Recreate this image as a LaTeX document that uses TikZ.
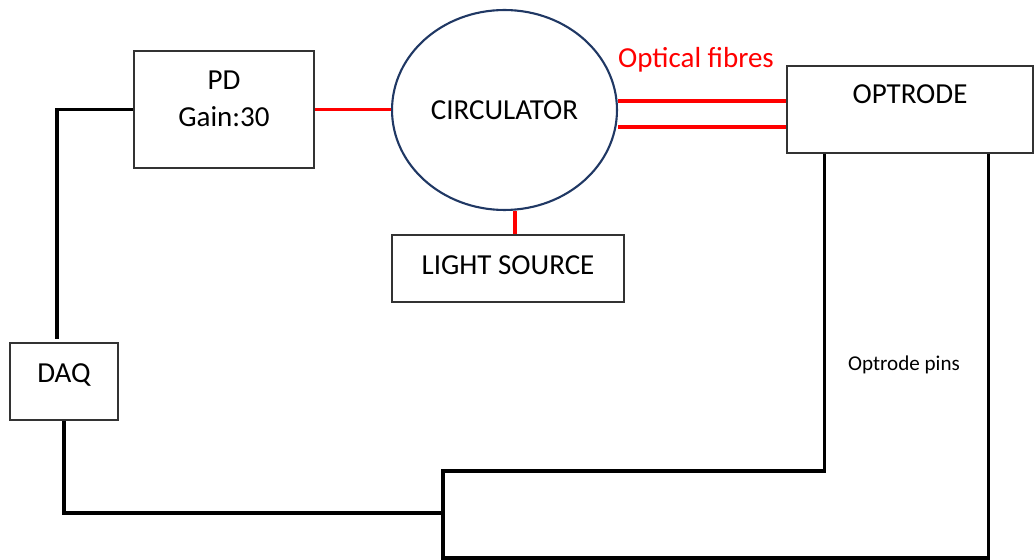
\documentclass[tikz,border=0pt]{standalone}
\usepackage{fontspec}
\setmainfont{Carlito}
\usepackage{xcolor}
\usepackage{tikz}
\usetikzlibrary{positioning, shapes.geometric, calc}

\definecolor{navyline}{RGB}{32,56,100}
\definecolor{fibrered}{RGB}{255,0,0}

\begin{document}
\begin{tikzpicture}[
    x=0.02cm, y=-0.02cm,
    every node/.style={font=\fontsize{16.5}{21}\selectfont},
    block/.style={rectangle, draw=black!80, line width=0.7pt, inner sep=0pt},
    circulator/.style={ellipse, draw=navyline, line width=1.2pt, inner sep=0pt},
    wire/.style={line width=2.1pt, draw=black},
    fibre/.style={line width=2.2pt, draw=fibrered},
    smalltext/.style={font=\fontsize{12}{14}\selectfont}
]
\useasboundingbox (0,0) rectangle (1034,560);

% Nodes
\node[block, minimum width=3.6cm, minimum height=2.34cm, text height=0.5cm, text depth=0.55cm] (pd) at (224,109.5) {\begin{tabular}{@{}c@{}}PD\\Gain:30\end{tabular}};
\node[circulator, minimum width=4.5cm, minimum height=4.0cm] (circ) at (504.5,110) {CIRCULATOR};
\node[block, minimum width=4.64cm, minimum height=1.34cm, text depth=0.14cm] (lsrc) at (508,268.5) {LIGHT SOURCE};
\node[block, minimum width=4.92cm, minimum height=1.74cm, text depth=0.6cm] (optrode) at (910,109.5) {OPTRODE};
\node[block, minimum width=2.16cm, minimum height=1.54cm, text depth=0.32cm] (daq) at (64,381.5) {DAQ};

% Labels
\node[text=fibrered] (fibrelabel) at (696,60) {Optical fibres};
\node[smalltext] (pinlabel) at (904,365) {Optrode pins};

% Optical links
\coordinate (srcin) at ($(lsrc.north)+(7,0)$);
\coordinate (fibreA) at ($(optrode.west)+(0,-8.5)$);
\coordinate (fibreB) at ($(optrode.west)+(0,17.5)$);
\draw[fibre] (pd.east) -- (pd.east -| circ.west);
\draw[fibre] (srcin) -- (srcin |- circ.south);
\draw[fibre] (fibreA -| circ.east) -- (fibreA);
\draw[fibre] (fibreB -| circ.east) -- (fibreB);

% Electrical wires
\coordinate (jtop) at (443,471);
\coordinate (jmid) at (443,513);
\coordinate (jbot) at (443,558);
\coordinate (pinL) at ($(optrode.south west)+(38,0)$);
\coordinate (pinR) at ($(optrode.south west)+(202,0)$);
\draw[wire] (pd.west) -| ($(daq.north)+(-7,-3)$);
\draw[wire] (daq.south) |- (jmid);
\draw[wire] (pinL) |- (jtop) -- (jbot) -| (pinR);

\end{tikzpicture}
\end{document}
